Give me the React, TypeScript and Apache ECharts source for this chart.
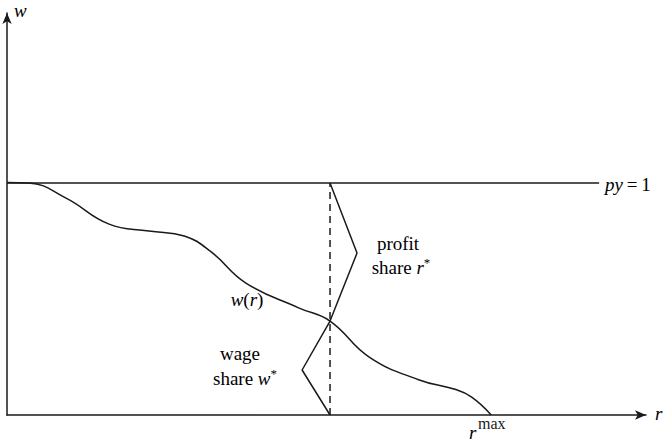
import React, { useEffect, useRef } from "react";
import * as echarts from "echarts";

// Wage–profit frontier w(r), sampled along r
const curveR = [0, 0.034, 0.092, 0.159, 0.221, 0.276, 0.318, 0.372, 0.455, 0.503, 0.564, 0.642, 0.696, 0.723, 0.754];
const curveW = [1.002, 1.0, 0.935, 0.823, 0.793, 0.772, 0.703, 0.569, 0.461, 0.405, 0.25, 0.151, 0.112, 0.078, 0];

// Distribution point and price level
const rStar = 0.503;
const wStar = 0.405;
const pyLevel = 1;
const pyLineEnd = 0.922;

// Brace-like markers for the two shares
const profitBrace = [[rStar, pyLevel], [0.545, 0.698], [rStar, wStar]];
const wageBrace = [[rStar, wStar], [0.4595, 0.194], [rStar, 0]];

const INK = "#1a1a1a";
const SERIF = "Liberation Serif";

export default function App() {
  const ref = useRef<HTMLDivElement>(null);

  useEffect(() => {
    if (!ref.current) return;
    const chart = echarts.init(ref.current, null, { renderer: "svg" });

    const lineStyle = { color: INK, width: 1.5 };
    const italic = { fontStyle: "italic" as const, fontFamily: SERIF, fontSize: 19, color: INK };
    const upright = { fontFamily: SERIF, fontSize: 19, color: INK };
    const sup = { fontFamily: SERIF, fontSize: 13, color: INK, verticalAlign: "top" as const, padding: [0, 0, 9, 0] };

    chart.setOption({
      animation: false,
      backgroundColor: "#ffffff",
      grid: { left: 7, top: 13, width: 639, height: 402, containLabel: false },
      xAxis: {
        type: "value",
        min: 0,
        max: 0.995,
        axisLine: { show: true, onZero: false, symbol: ["none", "arrow"], symbolSize: [7, 11], lineStyle: { color: INK, width: 1.5 } },
        axisTick: { show: false },
        axisLabel: { show: false },
        splitLine: { show: false },
      },
      yAxis: {
        type: "value",
        min: 0,
        max: 1.733,
        axisLine: { show: true, onZero: false, symbol: ["none", "arrow"], symbolSize: [7, 11], lineStyle: { color: INK, width: 1.5 } },
        axisTick: { show: false },
        axisLabel: { show: false },
        splitLine: { show: false },
      },
      series: [
        {
          type: "line",
          data: [[0, pyLevel], [pyLineEnd, pyLevel]],
          symbol: "none",
          lineStyle,
        },
        {
          type: "line",
          data: curveR.map((r, i) => [r, curveW[i]]),
          symbol: "none",
          smooth: 0.45,
          lineStyle,
        },
        {
          type: "line",
          data: [[rStar, 0], [rStar, pyLevel]],
          symbol: "none",
          lineStyle: { color: INK, width: 1.5, type: [7, 5] },
        },
        {
          type: "line",
          data: profitBrace,
          symbol: "none",
          lineStyle,
        },
        {
          type: "line",
          data: wageBrace,
          symbol: "none",
          lineStyle,
        },
      ],
      graphic: [
        { type: "text", x: 14, y: 10, style: { text: "w", ...italic, verticalAlign: "middle" } },
        { type: "text", x: 655, y: 413, style: { text: "r", ...italic, verticalAlign: "middle" } },
        {
          type: "text",
          x: 605,
          y: 184,
          style: {
            text: "{i|py}{n|\u2009=\u20091}",
            verticalAlign: "middle",
            rich: { i: italic, n: upright },
          },
        },
        {
          type: "text",
          x: 247,
          y: 299,
          style: {
            text: "{i|w}{n|(}{i|r}{n|)}",
            align: "center",
            verticalAlign: "middle",
            rich: { i: italic, n: upright },
          },
        },
        { type: "text", x: 398, y: 243, style: { text: "profit", ...upright, align: "center", verticalAlign: "middle" } },
        {
          type: "text",
          x: 401,
          y: 267,
          style: {
            text: "{n|share }{i|r}{s|*}",
            align: "center",
            verticalAlign: "middle",
            rich: { i: italic, n: upright, s: sup },
          },
        },
        { type: "text", x: 240, y: 353, style: { text: "wage", ...upright, align: "center", verticalAlign: "middle" } },
        {
          type: "text",
          x: 245,
          y: 378,
          style: {
            text: "{n|share }{i|w}{s|*}",
            align: "center",
            verticalAlign: "middle",
            rich: { i: italic, n: upright, s: sup },
          },
        },
        { type: "text", x: 469, y: 432, style: { text: "r", ...italic, verticalAlign: "middle" } },
        { type: "text", x: 478, y: 423, style: { text: "max", fontFamily: SERIF, fontSize: 16, fill: INK, verticalAlign: "middle" } },
      ],
    });

    return () => chart.dispose();
  }, []);

  return (
    <div
      ref={ref}
      style={{ position: "fixed", left: 0, top: 0, width: 664, height: 443, background: "#ffffff" }}
    />
  );
}
